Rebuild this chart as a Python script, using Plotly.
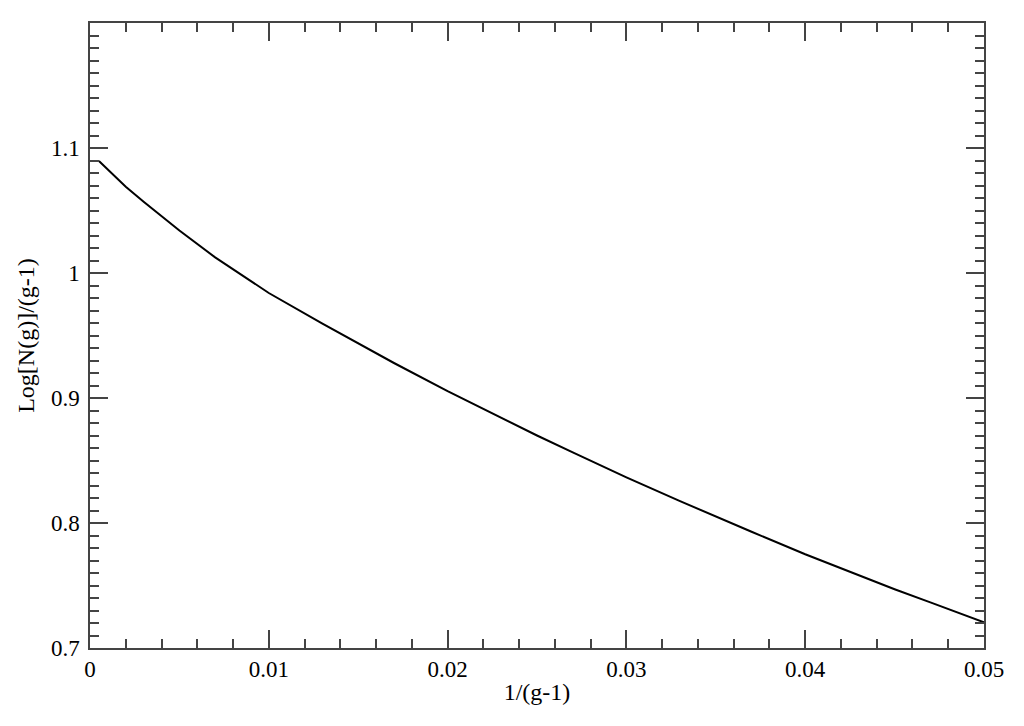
import plotly.graph_objects as go

# curve
inv_g = [0.0005, 0.002, 0.003, 0.005, 0.007, 0.01, 0.013, 0.015, 0.017, 0.02,
         0.023, 0.025, 0.027, 0.03, 0.033, 0.035, 0.037, 0.04, 0.043, 0.045,
         0.047, 0.05]
log_ng = [1.0896, 1.069, 1.057, 1.034, 1.0125, 0.984, 0.9595, 0.9435, 0.928, 0.9055,
          0.884, 0.870, 0.8565, 0.8365, 0.8175, 0.805, 0.793, 0.775, 0.758, 0.747,
          0.7365, 0.7205]

x_ticks = [0, 0.01, 0.02, 0.03, 0.04, 0.05]
x_labels = ["0", "0.01", "0.02", "0.03", "0.04", "0.05"]
y_ticks = [0.7, 0.8, 0.9, 1.0, 1.1]
y_labels = ["0.7", "0.8", "0.9", "1", "1.1"]

serif = "Liberation Serif, Times New Roman, serif"
tick_font = dict(family=serif, size=23, color="black")
title_font = dict(family=serif, size=24, color="black")

fig = go.Figure(go.Scatter(x=inv_g, y=log_ng, mode="lines",
                           line=dict(color="black", width=2)))

axis_style = dict(showline=True, linecolor="#444", linewidth=1.5, mirror="allticks",
                  ticks="inside", ticklen=18, tickwidth=1.5, tickcolor="#444",
                  showgrid=False, zeroline=False, tickfont=tick_font)

# page body adds 8px, so the figure is a bit smaller than the window
fig.update_layout(
    width=1008, height=710,
    margin=dict(l=82, r=32, t=15, b=70),
    paper_bgcolor="white", plot_bgcolor="white",
    showlegend=False, font=tick_font,
    xaxis=dict(range=[0, 0.05], tickvals=x_ticks, ticktext=x_labels,
               minor=dict(dtick=0.002, ticks="inside", ticklen=9, tickwidth=1.5, tickcolor="#444"),
               ticklabelstandoff=0,
               title=dict(text="1/(g-1)", font=title_font, standoff=2), **axis_style),
    yaxis=dict(range=[0.7, 1.2], tickvals=y_ticks, ticktext=y_labels,
               minor=dict(dtick=0.01, ticks="inside", ticklen=9, tickwidth=1.5, tickcolor="#444"),
               ticklabelstandoff=4,
               title=dict(text="Log[N(g)]/(g-1)", font=title_font, standoff=10), **axis_style),
)

fig.write_html("out.html")
